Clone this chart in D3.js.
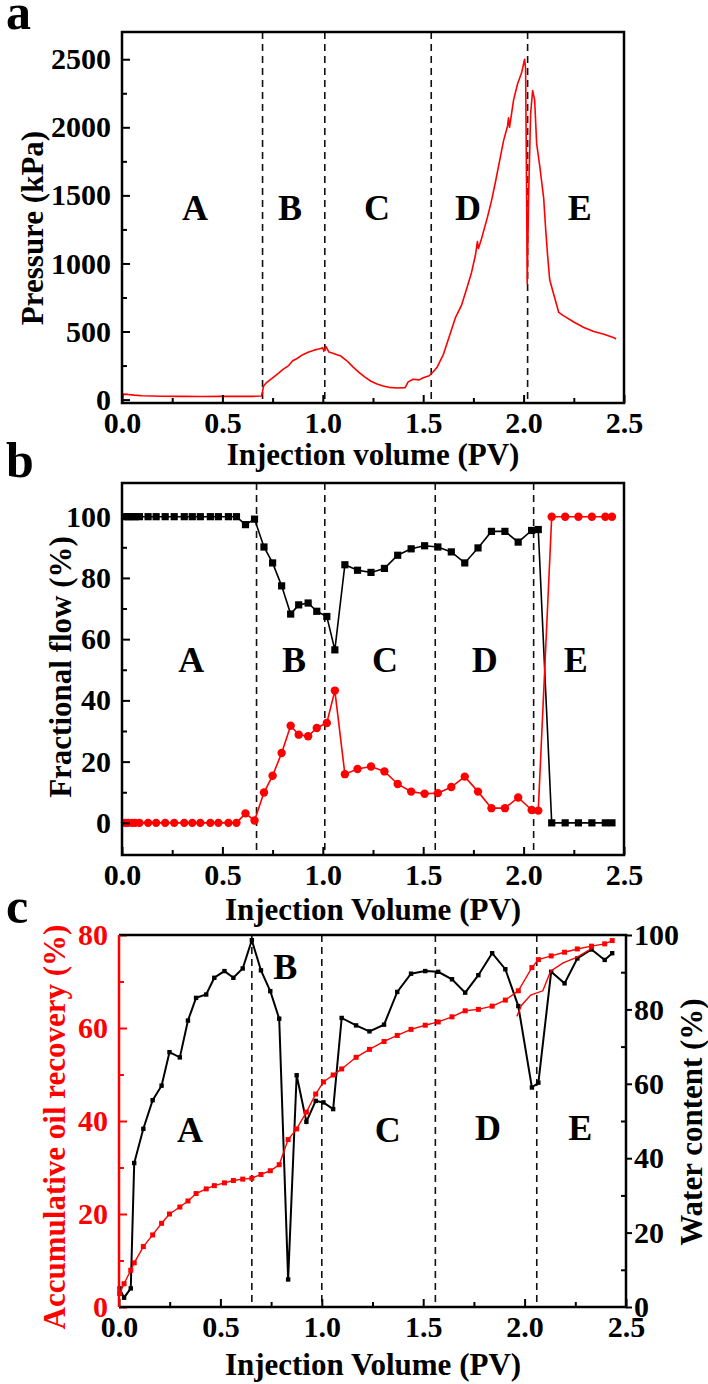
<!DOCTYPE html>
<html><head><meta charset="utf-8">
<script src="https://cdn.jsdelivr.net/npm/d3@7"></script>
<style>body{margin:0;background:#fff}</style>
</head><body><div id="chart"></div>
<script>
// ---------- DATA ----------
// Panel a: pressure vs injection volume
const pressurePV = [0.000,0.004,0.03,0.06,0.10,0.15,0.20,0.30,0.40,0.50,0.55,0.60,0.65,0.695,
  0.700,0.705,0.72,0.75,0.78,0.80,0.83,0.85,0.87,0.90,0.93,0.96,0.98,1.00,1.005,1.015,1.03,1.05,1.07,1.09,
  1.12,1.15,1.18,1.21,1.24,1.27,1.30,1.33,1.37,1.41,1.425,1.45,1.48,1.50,1.53,1.55,1.57,1.60,1.62,1.64,
  1.66,1.69,1.72,1.74,1.76,1.77,1.775,1.79,1.82,1.84,1.86,1.88,1.90,1.92,1.925,1.93,1.95,1.97,1.99,2.005,
  2.01,2.015,2.018,2.025,2.035,2.045,2.055,2.065,2.08,2.09,2.10,2.11,2.12,2.13,2.145,2.16,2.175,2.20,
  2.25,2.30,2.35,2.40,2.45,2.46];
const pressureKPa = [5,40,38,33,28,26,25,24,23,25,24,25,24,26,
  60,100,125,160,195,220,250,285,300,330,350,365,372,380,355,390,350,340,330,320,
  285,240,200,165,135,115,100,90,85,88,130,150,145,160,175,205,240,330,420,510,
  600,690,830,930,1060,1160,1110,1180,1340,1460,1600,1750,1900,2010,2070,2000,2200,2320,2400,2500,
  2430,1500,850,1500,2100,2270,2200,1880,1720,1600,1480,1250,1050,880,800,720,640,615,
  570,530,500,480,455,445];

// Panel b: fractional flow
const flowPV = [0.015,0.03,0.05,0.065,0.087,0.13,0.17,0.215,0.26,0.31,0.35,0.39,0.44,0.48,0.53,0.57,
  0.615,0.66,0.707,0.75,0.795,0.84,0.88,0.927,0.97,1.02,1.06,1.11,1.173,1.24,1.307,1.373,1.44,1.507,
  1.573,1.64,1.707,1.773,1.84,1.907,1.973,2.04,2.073,
  2.14,2.207,2.273,2.34,2.407,2.44];
const waterFlow = [100,100,100,100,100,100,100,100,100,100,100,100,100,100,100,100,
  97.4,99.2,90.1,84.9,77.4,68.2,71.2,71.8,69.1,67.4,56.5,84.3,82.5,81.8,83.1,87.4,89.5,90.5,
  90.1,88.5,84.9,89.8,95.2,95.2,91.7,95.5,95.8,
  0,0,0,0,0,0];
const oilFlow = [0,0,0,0,0,0,0,0,0,0,0,0,0,0,0,0,
  3.1,0.75,9.9,15.4,22.8,31.7,28.8,28.3,31.0,32.6,43.2,15.9,17.6,18.4,16.8,12.7,10.2,9.5,
  9.7,11.7,15.1,10.2,4.8,4.8,8.3,4.2,4.0,
  100,100,100,100,100,100];

// Panel c: oil recovery and water content
const recPV = [0.003,0.025,0.058,0.075,0.12,0.166,0.21,0.249,0.30,0.34,0.38,0.43,0.47,0.52,0.564,0.61,
  0.655,0.70,0.746,0.79,0.834,0.876,0.924,0.97,1.008,1.056,1.098,1.169,1.235,1.307,1.372,1.44,
  1.51,1.574,1.642,1.707,1.772,1.84,1.905,1.969,2.036,2.068,2.131,2.197,2.26,2.33,2.395,2.432];
const waterContent = [5.0,2.5,5.0,38.7,47.9,55.6,59.5,68.5,67.1,77.0,83.1,84.0,88.5,90.3,88.5,91.0,
  98.6,90.5,84.9,77.5,7.4,62.3,49.8,55.4,55.0,53.2,77.7,75.7,74.1,75.9,84.7,89.6,
  90.3,90.1,88.1,84.5,89.2,95.1,90.8,80.9,59.0,60.3,90.1,87.0,93.7,96.1,93.3,95.1];
const oilRecovery = [2.9,5.0,7.9,9.5,13.0,15.5,18.0,20.0,21.5,22.8,24.4,25.4,26.1,26.7,27.2,27.5,
  27.7,28.5,29.3,30.6,36.0,38.3,41.9,45.8,48.4,49.9,51.2,53.7,55.4,57.1,58.4,59.7,
  60.6,61.3,62.4,63.7,64.0,64.7,66.0,68.0,73.0,74.7,75.5,76.3,77.0,77.6,78.1,78.8];
const overlayPV = [1.962,1.985,2.03,2.09,2.128,2.19,2.257,2.33];
const overlayRecovery = [62.5,64.9,67.1,68.0,72.2,74.0,75.2,77.1];

// Ticks, stages
const xTicks = [0,0.5,1.0,1.5,2.0,2.5];
const xMinor = [0.25,0.75,1.25,1.75,2.25];
const pressureTicks = [0,500,1000,1500,2000,2500];
const pressureMinor = [250,750,1250,1750,2250];
const flowTicks = [0,20,40,60,80,100];
const flowMinor = [10,30,50,70,90];
const recoveryTicks = [0,20,40,60,80];
const recoveryMinor = [10,30,50,70];
const waterTicks = [0,20,40,60,80,100];
const waterMinor = [10,30,50,70,90];
const stages = ["A","B","C","D","E"];
const boundariesA = [0.70,1.01,1.54,2.02];
const boundariesB = [0.67,1.01,1.56,2.05];
const boundariesC = [0.655,1.0,1.56,2.06];

// ---------- DRAW ----------
const W = 708, H = 1384;
const RED = "#ff0000";
const FONT = "'Times New Roman','Liberation Serif',serif";
const svg = d3.select("#chart").append("svg").attr("width", W).attr("height", H)
  .attr("font-family", FONT);
svg.append("rect").attr("width", W).attr("height", H).attr("fill", "#fff");

function styleAxis(g, color) {
  g.attr("font-family", FONT).attr("font-size", 30).attr("font-weight", "bold");
  g.select(".domain").remove();
  g.selectAll("line").attr("stroke", color).attr("stroke-width", 2);
  g.selectAll("text").attr("fill", color);
}
function bottomAxis(x, yPix, pad) {
  const g = svg.append("g").attr("transform", `translate(0,${yPix})`)
    .call(d3.axisBottom(x).tickValues(xTicks).tickSize(-8).tickPadding(pad).tickFormat(d3.format(".1f")));
  styleAxis(g, "#000");
  const m = svg.append("g").attr("transform", `translate(0,${yPix})`)
    .call(d3.axisBottom(x).tickValues(xMinor).tickSize(-5).tickFormat(""));
  styleAxis(m, "#000");
}
function leftAxis(y, xPix, ticks, minor, color) {
  const g = svg.append("g").attr("transform", `translate(${xPix},0)`)
    .call(d3.axisLeft(y).tickValues(ticks).tickSize(-8).tickPadding(11).tickFormat(d3.format("d")));
  styleAxis(g, color);
  const m = svg.append("g").attr("transform", `translate(${xPix},0)`)
    .call(d3.axisLeft(y).tickValues(minor).tickSize(-5).tickFormat(""));
  styleAxis(m, color);
}
function box(x0, x1, y0, y1) {
  svg.append("rect").attr("x", x0).attr("y", y0).attr("width", x1 - x0).attr("height", y1 - y0)
    .attr("fill", "none").attr("stroke", "#000").attr("stroke-width", 2.5);
}
function dashed(x, y0, y1, vals) {
  svg.append("g").selectAll("line").data(vals).join("line")
    .attr("x1", d => x(d)).attr("x2", d => x(d)).attr("y1", y0).attr("y2", y1)
    .attr("stroke", "#111").attr("stroke-width", 1.6).attr("stroke-dasharray", "7,5");
}
function stageLabels(x, y, pos) {
  svg.append("g").selectAll("text").data(stages).join("text")
    .attr("x", (d, i) => x(pos[i][0])).attr("y", (d, i) => y(pos[i][1]))
    .attr("text-anchor", "middle").attr("font-size", 36).attr("font-weight", "bold").text(d => d);
}
function xTitle(txt, cx, baseline) {
  svg.append("text").attr("x", cx).attr("y", baseline).attr("text-anchor", "middle")
    .attr("font-size", 31).attr("font-weight", "bold").text(txt);
}
function yTitle(txt, cx, cy, color) {
  svg.append("text").attr("transform", `translate(${cx},${cy}) rotate(-90)`)
    .attr("dy", "0.35em").attr("text-anchor", "middle").attr("font-size", 31)
    .attr("font-weight", "bold").attr("fill", color || "#000").text(txt);
}
function panelLetter(t, baseline) {
  svg.append("text").attr("x", 6).attr("y", baseline).attr("font-size", 50)
    .attr("font-weight", "bold").text(t);
}

// ---- Panel a ----
{
  const x = d3.scaleLinear([0, 2.5], [122, 624]);
  const y = d3.scaleLinear([-25, 2700], [403, 32]);
  dashed(x, 32, 403, boundariesA);
  const pts = pressurePV.map((d, i) => [d, pressureKPa[i]]);
  svg.append("path").datum(pts).attr("fill", "none").attr("stroke", RED).attr("stroke-width", 1.6)
    .attr("stroke-linejoin", "round")
    .attr("d", d3.line().x(d => x(d[0])).y(d => y(d[1])));
  bottomAxis(x, 403, 9);
  leftAxis(y, 122, pressureTicks, pressureMinor, "#000");
  box(122, 624, 32, 403);
  stageLabels(x, y, [[0.364,1320],[0.837,1320],[1.27,1320],[1.723,1320],[2.28,1320]]);
  xTitle("Injection volume (PV)", 373, 465);
  yTitle("Pressure (kPa)", 32, 228);
  panelLetter("a", 29);
}

// ---- Panel b ----
{
  const x = d3.scaleLinear([0, 2.5], [122, 624]);
  const y = d3.scaleLinear([-10.5, 111], [855, 483]);
  dashed(x, 483, 855, boundariesB);
  const line = d3.line().x(d => x(d[0])).y(d => y(d[1]));
  const wPts = flowPV.map((d, i) => [d, waterFlow[i]]);
  const oPts = flowPV.map((d, i) => [d, oilFlow[i]]);
  svg.append("path").datum(wPts).attr("fill", "none").attr("stroke", "#000").attr("stroke-width", 1.6).attr("d", line);
  svg.append("g").selectAll("rect").data(wPts).join("rect")
    .attr("x", d => x(d[0]) - 3.6).attr("y", d => y(d[1]) - 3.6).attr("width", 7.2).attr("height", 7.2).attr("fill", "#000");
  svg.append("path").datum(oPts).attr("fill", "none").attr("stroke", RED).attr("stroke-width", 1.6).attr("d", line);
  svg.append("g").selectAll("circle").data(oPts).join("circle")
    .attr("cx", d => x(d[0])).attr("cy", d => y(d[1])).attr("r", 4.2).attr("fill", RED);
  bottomAxis(x, 855, 9);
  leftAxis(y, 122, flowTicks, flowMinor, "#000");
  box(122, 624, 483, 855);
  stageLabels(x, y, [[0.345,49.4],[0.857,49.4],[1.31,49.4],[1.806,49.4],[2.26,49.4]]);
  xTitle("Injection Volume (PV)", 373, 920);
  yTitle("Fractional flow (%)", 60, 667);
  panelLetter("b", 477);
}

// ---- Panel c ----
{
  const x = d3.scaleLinear([0, 2.5], [119, 626]);
  const yL = d3.scaleLinear([0, 80], [1307, 935]);
  const yR = d3.scaleLinear([0, 100], [1307, 935]);
  dashed(x, 935, 1307, boundariesC);
  const wPts = recPV.map((d, i) => [d, waterContent[i]]);
  const rPts = recPV.map((d, i) => [d, oilRecovery[i]]);
  const oPts = overlayPV.map((d, i) => [d, overlayRecovery[i]]);
  svg.append("path").datum(wPts).attr("fill", "none").attr("stroke", "#000").attr("stroke-width", 2)
    .attr("d", d3.line().x(d => x(d[0])).y(d => yR(d[1])));
  svg.append("g").selectAll("rect").data(wPts).join("rect")
    .attr("x", d => x(d[0]) - 2.2).attr("y", d => yR(d[1]) - 2.2).attr("width", 4.4).attr("height", 4.4).attr("fill", "#000");
  const lineL = d3.line().x(d => x(d[0])).y(d => yL(d[1]));
  svg.append("path").datum(oPts).attr("fill", "none").attr("stroke", RED).attr("stroke-width", 1.4).attr("d", lineL);
  svg.append("path").datum(rPts).attr("fill", "none").attr("stroke", RED).attr("stroke-width", 1.4).attr("d", lineL);
  svg.append("g").selectAll("rect").data(rPts).join("rect")
    .attr("x", d => x(d[0]) - 2.5).attr("y", d => yL(d[1]) - 2.5).attr("width", 5).attr("height", 5).attr("fill", RED);
  bottomAxis(x, 1307, 9);
  leftAxis(yL, 119, recoveryTicks, recoveryMinor, RED);
  const gr = svg.append("g").attr("transform", "translate(626,0)")
    .call(d3.axisRight(yR).tickValues(waterTicks).tickSize(6).tickPadding(2).tickFormat(d3.format("d")));
  styleAxis(gr, "#000");
  const grm = svg.append("g").attr("transform", "translate(626,0)")
    .call(d3.axisRight(yR).tickValues(waterMinor).tickSize(-5).tickFormat(""));
  styleAxis(grm, "#000");
  // frame: black top/right/bottom, red left
  svg.append("path").attr("d", `M119,935 H626 V1307 H119`).attr("fill", "none").attr("stroke", "#000").attr("stroke-width", 2.5);
  svg.append("line").attr("x1", 119).attr("x2", 119).attr("y1", 935).attr("y2", 1307).attr("stroke", RED).attr("stroke-width", 2.5);
  stageLabels(x, yL, [[0.35,35.4],[0.82,70.5],[1.325,35.4],[1.82,36],[2.275,36]]);
  xTitle("Injection Volume (PV)", 373, 1375);
  yTitle("Accumulative oil recovery (%)", 54, 1127, RED);
  yTitle("Water content (%)", 691, 1122, "#000");
  panelLetter("c", 923);
}
</script>
</body></html>
